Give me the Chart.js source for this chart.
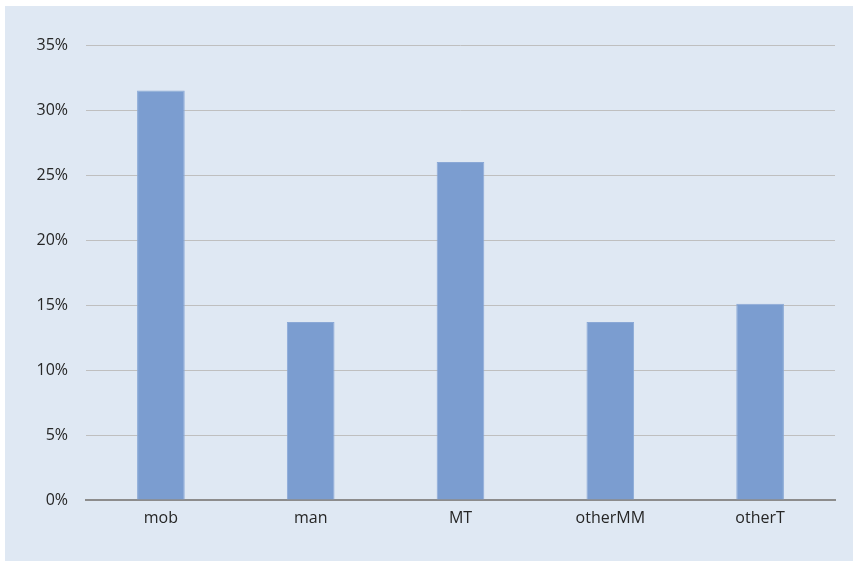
<!DOCTYPE html>
<html>
<head>
<meta charset="utf-8">
<script src="https://cdn.jsdelivr.net/npm/chart.js@4.4.1/dist/chart.umd.min.js"></script>
<style>
  html, body { margin: 0; padding: 0; background: #ffffff; }
  #panel {
    position: absolute; left: 5px; top: 6px;
    width: 848px; height: 555px;
    background: #dfe8f3;
  }
  canvas { display: block; }
</style>
</head>
<body>
<div id="panel"><canvas id="chart" width="848" height="555"></canvas></div>
<script>
// Share of each category (percent)
const categories = ['mob', 'man', 'MT', 'otherMM', 'otherT'];
const shares = [31.5, 13.7, 26.0, 13.7, 15.1];
const yTicks = [0, 5, 10, 15, 20, 25, 30, 35];

const fontSpec = { family: '"Open Sans", "Noto Sans", sans-serif', size: 16 };

new Chart(document.getElementById('chart'), {
  type: 'bar',
  data: {
    labels: categories,
    datasets: [{
      data: shares,
      backgroundColor: '#7b9dd0',
      borderColor: '#8aa8d6',
      borderWidth: 1,
      categoryPercentage: 1,
      barPercentage: 0.318
    }]
  },
  options: {
    responsive: false,
    animation: false,
    layout: { padding: { top: 39, right: 18, bottom: 0, left: 0 } },
    plugins: { legend: { display: false }, tooltip: { enabled: false } },
    scales: {
      x: {
        grid: { display: false, drawTicks: false },
        border: { display: true, color: '#8c8c8c', width: 2 },
        ticks: { color: '#262626', font: fontSpec, padding: 9 },
        afterFit: (axis) => { axis.height = 61; }
      },
      y: {
        min: 0, max: 35,
        afterBuildTicks: (axis) => { axis.ticks = yTicks.map(v => ({ value: v })); },
        grid: { color: '#bfbfbf', lineWidth: 1, drawTicks: false },
        border: { display: false },
        ticks: {
          color: '#262626', font: fontSpec, padding: 18,
          callback: (v) => v + '%'
        },
        afterFit: (axis) => { axis.width = 81; }
      }
    }
  }
});
</script>
</body>
</html>
